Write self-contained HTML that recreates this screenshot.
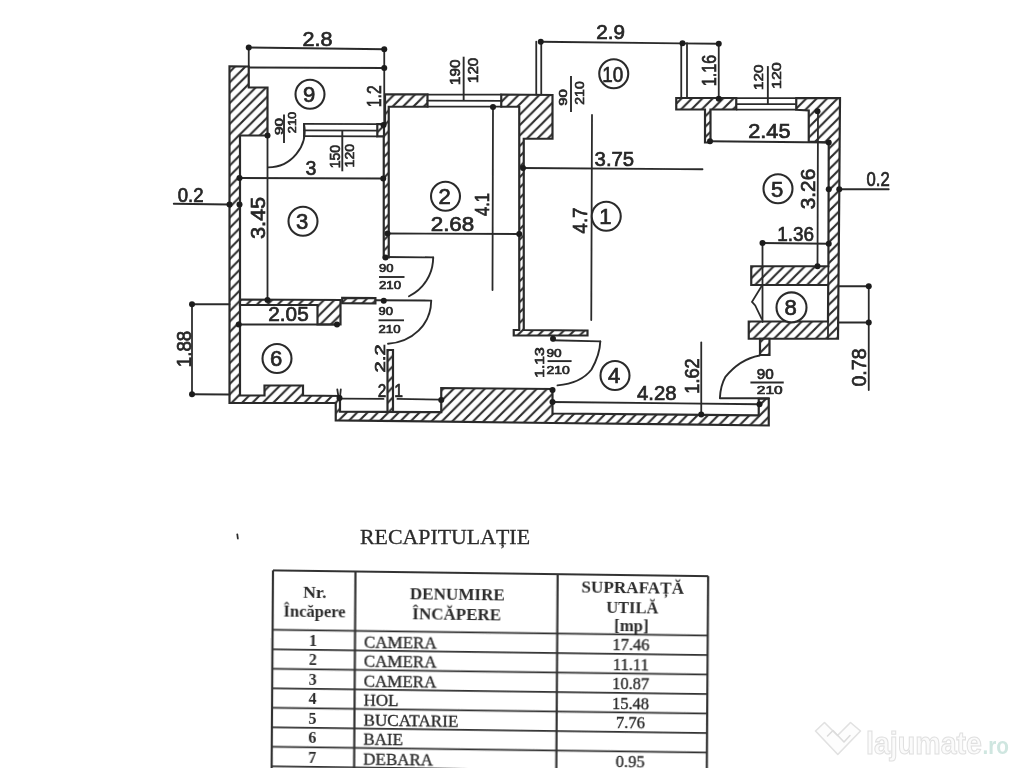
<!DOCTYPE html>
<html><head><meta charset="utf-8"><title>plan</title>
<style>
html,body{margin:0;padding:0;background:#fff;}
body{width:1024px;height:768px;overflow:hidden;position:relative;font-family:"Liberation Sans",sans-serif;}
svg{position:absolute;left:0;top:0;display:block}
.w{fill:url(#h);stroke:#2c2c2c;stroke-width:2.2;stroke-linejoin:miter}
.l{stroke:#2c2c2c;stroke-width:1.8;fill:none;stroke-linecap:round}
.d{fill:#1c1c1c}
.f{stroke:#2c2c2c;stroke-width:1.9;fill:none}
.c{fill:#fff;stroke:#2c2c2c;stroke-width:2.1}
.a{stroke:#2c2c2c;stroke-width:1.9;fill:none;stroke-linecap:round}
.t{font-family:"Liberation Sans",sans-serif;fill:#262626;stroke:#262626;stroke-width:0.7}
.s{font-family:"Liberation Sans",sans-serif;fill:#262626;stroke:#262626;stroke-width:0.65}
.tl{stroke:#333;stroke-width:1.7}
.tb{stroke-width:2.2}
.hb{font-family:"Liberation Serif",serif;font-weight:bold;fill:#2b2b2b}
.rb{font-family:"Liberation Serif",serif;font-weight:bold;fill:#2b2b2b}
.rt{font-family:"Liberation Serif",serif;fill:#2b2b2b;stroke:#2b2b2b;stroke-width:0.35}
.ti{font-family:"Liberation Serif",serif;fill:#2b2b2b;stroke:#2b2b2b;stroke-width:0.3}
</style></head>
<body>
<svg width="1024" height="768" viewBox="0 0 1024 768">
<defs>
<pattern id="h" patternUnits="userSpaceOnUse" width="10.4" height="10.4">
<rect width="10.4" height="10.4" fill="#fff"/>
<path d="M-2.6,2.6 L2.6,-2.6 M0,10.4 L10.4,0 M7.8,13 L13,7.8" stroke="#2c2c2c" stroke-width="2.1"/>
</pattern>
<filter id="soft" x="-2%" y="-2%" width="104%" height="104%"><feGaussianBlur stdDeviation="0.5"/></filter>
<filter id="soft2" x="-5%" y="-20%" width="110%" height="140%"><feGaussianBlur stdDeviation="0.6"/></filter>
</defs>
<rect width="1024" height="768" fill="#fff"/>
<g filter="url(#soft)">
<polygon class="w" points="229.5,66.25 248.75,66.5 248.75,87.5 267.5,87.5 267.5,135.5 240,135.5 240,395.5 264.5,395.5 264.5,385.5 303,385.5 303,395.5 340,396 340,411.6 441.25,412.2 441.25,388 552.5,389 552.5,413.5 758.75,415.3 758.75,398.75 768.75,398.75 768.75,425.5 552.5,423 335.75,420.3 335.75,403 229.5,403"/>
<polygon class="w" points="240,299.5 340.5,300 340.5,324.5 317.5,324.5 317.5,305 240,305"/>
<polygon class="w" points="342.2,297.9 375.4,298.2 375.4,303.5 342.2,303.2"/>
<polygon class="w" points="385,94.25 427.5,94.4 427.5,106.75 388.75,106.75 388.75,257.5 383.75,257.5 383.75,123.75 385,123.75"/>
<polygon class="w" points="501.25,94.5 552.5,95 552.5,138.75 523.75,138.75 523.75,330 587.5,330.5 587.5,335.5 513.75,335.3 513.75,330 519.25,330 519.25,106.75 501.25,106.75"/>
<polygon class="w" points="676.25,98 736.25,98 736.25,109.5 710.5,109.5 710.5,142.5 705,142.5 705,109.5 676.25,109.5"/>
<polygon class="w" points="796.25,98 840,98.2 839.3,189 838,338.75 748.75,338.75 748.75,321.5 828,321.5 828.2,285 751.25,285 751.25,266.25 828.4,266.25 828.75,142.5 808.75,141.5 808.75,110.5 796.25,109.8"/>
<line class="l" x1="828.4" y1="266.25" x2="828.2" y2="285"/>
<line class="l" x1="828" y1="321.5" x2="828" y2="338.5"/>
<polygon class="w" points="760,338.75 769.5,338.75 769.5,355 760,355"/>
<polygon class="w" points="387.5,350 393,350 393,412 387.5,412"/>
<line class="l" x1="304" y1="123.9" x2="377.3" y2="124.15"/>
<line class="l" x1="304" y1="130.3" x2="377.3" y2="130.55"/>
<line class="l" x1="304" y1="136.1" x2="377.3" y2="136.35"/>
<line class="l" x1="304" y1="123.9" x2="304" y2="136.1"/>
<polygon class="w" points="377.3,124.1 384,124.1 384,136.4 377.3,136.4"/>
<line class="l" x1="427.3" y1="94.6" x2="501.5" y2="94.7"/>
<line class="l" x1="427.3" y1="100.7" x2="501.5" y2="100.8"/>
<line class="l" x1="427.3" y1="106.6" x2="501.5" y2="106.7"/>
<line class="l" x1="736.6" y1="98.2" x2="795.5" y2="98.2"/>
<line class="l" x1="736.6" y1="104.2" x2="795.5" y2="104.2"/>
<line class="l" x1="736.6" y1="109.6" x2="795.5" y2="109.6"/>
<line class="l" x1="248.75" y1="47.5" x2="384.25" y2="49.25"/>
<line class="l" x1="248.75" y1="47.5" x2="248.75" y2="66.5"/>
<line class="l" x1="384.25" y1="49.25" x2="384.25" y2="125"/>
<line class="l" x1="248.75" y1="67.5" x2="384.25" y2="68"/>
<line class="l" x1="239.5" y1="178" x2="383.25" y2="178.5"/>
<line class="l" x1="267.5" y1="135.5" x2="267.5" y2="300"/>
<line class="l" x1="173.75" y1="203.75" x2="229.5" y2="204.5"/>
<line class="l" x1="192" y1="304.25" x2="229.5" y2="304.25"/>
<line class="l" x1="192" y1="394.25" x2="229.5" y2="394.5"/>
<line class="l" x1="192" y1="304.25" x2="192" y2="394.25"/>
<line class="l" x1="238.75" y1="324.5" x2="337" y2="324.5"/>
<line class="l" x1="387.5" y1="233.5" x2="519.25" y2="234"/>
<line class="l" x1="493" y1="107" x2="492.5" y2="290"/>
<line class="l" x1="592" y1="115" x2="591.25" y2="320"/>
<line class="l" x1="523" y1="168" x2="702.5" y2="169.25"/>
<line class="l" x1="540.75" y1="41.75" x2="718.75" y2="43.75"/>
<line class="l" x1="536.25" y1="41.75" x2="536.25" y2="94.5"/>
<line class="l" x1="541.25" y1="41.75" x2="541.25" y2="94.5"/>
<line class="l" x1="681.25" y1="43.25" x2="681.25" y2="98"/>
<line class="l" x1="687" y1="43.25" x2="687" y2="98"/>
<line class="l" x1="718.75" y1="43.75" x2="718.75" y2="98.75"/>
<line class="l" x1="710" y1="141.25" x2="828.75" y2="142.5"/>
<line class="l" x1="818" y1="111.25" x2="817.5" y2="266.25"/>
<line class="l" x1="839.25" y1="189.25" x2="888.75" y2="189.25"/>
<line class="l" x1="762.5" y1="243" x2="828.75" y2="243.75"/>
<line class="l" x1="762.5" y1="243" x2="762.5" y2="322"/>
<line class="l" x1="838.5" y1="286.25" x2="868.75" y2="286.25"/>
<line class="l" x1="838" y1="322.5" x2="868.75" y2="322.5"/>
<line class="l" x1="868.75" y1="286.25" x2="868.75" y2="390"/>
<line class="l" x1="701.25" y1="342.5" x2="701.25" y2="414.5"/>
<line class="l" x1="552.5" y1="402" x2="759.5" y2="404.25"/>
<line class="l" x1="340.5" y1="398.7" x2="383.5" y2="398.9"/>
<line class="l" x1="397.4" y1="398.9" x2="441.3" y2="399.6"/>
<path class="l" d="M761.7,286 L752,301.9 L755.2,305.4 L761.7,318.8"/>
<path class="l" d="M337.3,389.5 L338.5,397 M340.8,389.5 L340,397"/>
<path class="l" d="M237.3,534.5 L237.8,538.5"/>
<path class="a" d="M304,124 A36.5,36.5 0 0 1 268,167.4"/>
<line class="a" x1="385" y1="257" x2="433.2" y2="257.4"/>
<path class="a" d="M433.2,257.4 C433,274 424,289 409,296.25"/>
<line class="a" x1="376" y1="300.3" x2="431.2" y2="300.6"/>
<path class="a" d="M431.2,300.6 C431,325 412,342 388,343.8"/>
<line class="a" x1="552.2" y1="340.2" x2="600.3" y2="341.4"/>
<path class="a" d="M600.3,341.4 C600,351 598,358 591.5,369.5 C585,378 573,384 557.5,385.4"/>
<path class="a" d="M759.7,355.5 C746,358 735,365 725.2,377.2 C722,383 720.3,390 719.9,397.7"/>
<line class="a" x1="719.9" y1="398.3" x2="769" y2="398.3"/>
<circle class="d" cx="248.75" cy="47.5" r="3"/>
<circle class="d" cx="384.25" cy="49.25" r="3"/>
<circle class="d" cx="384.25" cy="68" r="3"/>
<circle class="d" cx="383.5" cy="125" r="3"/>
<circle class="d" cx="267.5" cy="135.5" r="3"/>
<circle class="d" cx="239.5" cy="178" r="3"/>
<circle class="d" cx="383.25" cy="178.5" r="3"/>
<circle class="d" cx="229.5" cy="204.5" r="3"/>
<circle class="d" cx="239.5" cy="204.5" r="3"/>
<circle class="d" cx="267.5" cy="300" r="3"/>
<circle class="d" cx="192" cy="304.25" r="3"/>
<circle class="d" cx="192" cy="394.25" r="3"/>
<circle class="d" cx="238.75" cy="324.5" r="3"/>
<circle class="d" cx="337" cy="324.5" r="3"/>
<circle class="d" cx="383.75" cy="300.75" r="3"/>
<circle class="d" cx="385.5" cy="257.5" r="3"/>
<circle class="d" cx="387.5" cy="233.5" r="3"/>
<circle class="d" cx="519.25" cy="234" r="3"/>
<circle class="d" cx="493" cy="107" r="3"/>
<circle class="d" cx="523" cy="168" r="3"/>
<circle class="d" cx="540.75" cy="41.75" r="3"/>
<circle class="d" cx="682.5" cy="43.25" r="3"/>
<circle class="d" cx="718.75" cy="43.75" r="3"/>
<circle class="d" cx="718.75" cy="98.75" r="3"/>
<circle class="d" cx="710" cy="141.25" r="3"/>
<circle class="d" cx="817.5" cy="111.25" r="3"/>
<circle class="d" cx="828.75" cy="142.5" r="3"/>
<circle class="d" cx="828.75" cy="189.25" r="3"/>
<circle class="d" cx="839.25" cy="189.25" r="3"/>
<circle class="d" cx="762.5" cy="243" r="3"/>
<circle class="d" cx="828.75" cy="243.75" r="3"/>
<circle class="d" cx="817.5" cy="266.25" r="3"/>
<circle class="d" cx="868.75" cy="286.25" r="3"/>
<circle class="d" cx="868.75" cy="322.5" r="3"/>
<circle class="d" cx="701.25" cy="414.5" r="3"/>
<circle class="d" cx="759.5" cy="404.25" r="3"/>
<circle class="d" cx="552.5" cy="390" r="3"/>
<circle class="d" cx="552.5" cy="402" r="3"/>
<circle class="d" cx="553" cy="338.75" r="3"/>
<circle class="d" cx="441.25" cy="400" r="3"/>
<circle class="d" cx="339.5" cy="398" r="3"/>
<circle class="c" cx="310" cy="94.25" r="14.5"/>
<text class="t" x="302.95" y="102.17" font-size="22" textLength="12.3" lengthAdjust="spacingAndGlyphs">9</text>
<circle class="c" cx="303" cy="221.25" r="14.5"/>
<text class="t" x="295.95" y="229.17" font-size="22" textLength="12.3" lengthAdjust="spacingAndGlyphs">3</text>
<circle class="c" cx="277" cy="358.5" r="14.5"/>
<text class="t" x="269.95" y="366.42" font-size="22" textLength="12.3" lengthAdjust="spacingAndGlyphs">6</text>
<circle class="c" cx="445.5" cy="196.25" r="14.5"/>
<text class="t" x="438.45" y="204.17" font-size="22" textLength="12.3" lengthAdjust="spacingAndGlyphs">2</text>
<circle class="c" cx="613.75" cy="73.75" r="14.5"/>
<text class="t" x="602.35" y="81.67" font-size="22" textLength="21" lengthAdjust="spacingAndGlyphs">10</text>
<circle class="c" cx="606.25" cy="216.25" r="14.5"/>
<text class="t" x="599.2" y="224.17" font-size="22" textLength="12.3" lengthAdjust="spacingAndGlyphs">1</text>
<circle class="c" cx="615" cy="375.5" r="14.5"/>
<text class="t" x="607.95" y="383.42" font-size="22" textLength="12.3" lengthAdjust="spacingAndGlyphs">4</text>
<circle class="c" cx="778" cy="188.75" r="14.5"/>
<text class="t" x="770.95" y="196.67" font-size="22" textLength="12.3" lengthAdjust="spacingAndGlyphs">5</text>
<circle class="c" cx="791.5" cy="307.4" r="15"/>
<text class="t" x="784.45" y="315.32" font-size="22" textLength="12.3" lengthAdjust="spacingAndGlyphs">8</text>
<text class="t" x="302.512" y="45.5" font-size="20.5" textLength="29.975" lengthAdjust="spacingAndGlyphs">2.8</text>
<text class="t" x="305.55" y="174.5" font-size="20.5" textLength="10.9" lengthAdjust="spacingAndGlyphs">3</text>
<text class="t" x="177.681" y="201.5" font-size="20.5" textLength="25.8875" lengthAdjust="spacingAndGlyphs">0.2</text>
<text class="t" transform="translate(257.5,218) rotate(-90)" x="-21.1188" y="7.38" font-size="20.5" textLength="42.2375" lengthAdjust="spacingAndGlyphs">3.45</text>
<text class="t" transform="translate(373.5,96.25) rotate(-90)" x="-10.9" y="7.38" font-size="20.5" textLength="21.8" lengthAdjust="spacingAndGlyphs">1.2</text>
<text class="t" x="268.335" y="320.5" font-size="20.5" textLength="40.33" lengthAdjust="spacingAndGlyphs">2.05</text>
<text class="t" transform="translate(183.75,349) rotate(-90)" x="-18.2575" y="7.38" font-size="20.5" textLength="36.515" lengthAdjust="spacingAndGlyphs">1.88</text>
<text class="t" x="430.7" y="230.5" font-size="20.5" textLength="43.6" lengthAdjust="spacingAndGlyphs">2.68</text>
<text class="t" transform="translate(482,204.5) rotate(-90)" x="-11.445" y="7.38" font-size="20.5" textLength="22.89" lengthAdjust="spacingAndGlyphs">4.1</text>
<text class="t" transform="translate(579.5,220.5) rotate(-90)" x="-12.9438" y="7.38" font-size="20.5" textLength="25.8875" lengthAdjust="spacingAndGlyphs">4.7</text>
<text class="t" x="594.619" y="165.5" font-size="20.5" textLength="39.5125" lengthAdjust="spacingAndGlyphs">3.75</text>
<text class="t" x="596.319" y="39.25" font-size="20.5" textLength="28.6125" lengthAdjust="spacingAndGlyphs">2.9</text>
<text class="t" transform="translate(708.75,70.5) rotate(-90)" x="-15.6688" y="7.38" font-size="20.5" textLength="31.3375" lengthAdjust="spacingAndGlyphs">1.16</text>
<text class="t" x="748.256" y="138" font-size="20.5" textLength="42.2375" lengthAdjust="spacingAndGlyphs">2.45</text>
<text class="t" transform="translate(807.5,189) rotate(-90)" x="-20.165" y="7.38" font-size="20.5" textLength="40.33" lengthAdjust="spacingAndGlyphs">3.26</text>
<text class="t" x="866.544" y="185.5" font-size="20.5" textLength="23.1625" lengthAdjust="spacingAndGlyphs">0.2</text>
<text class="t" x="777.231" y="240.5" font-size="20.5" textLength="36.7875" lengthAdjust="spacingAndGlyphs">1.36</text>
<text class="t" transform="translate(858.75,367.5) rotate(-90)" x="-19.075" y="7.38" font-size="20.5" textLength="38.15" lengthAdjust="spacingAndGlyphs">0.78</text>
<text class="t" transform="translate(692,376) rotate(-90)" x="-17.7125" y="7.38" font-size="20.5" textLength="35.425" lengthAdjust="spacingAndGlyphs">1.62</text>
<text class="t" x="637.067" y="399.5" font-size="20.5" textLength="39.567" lengthAdjust="spacingAndGlyphs">4.28</text>
<text class="t" transform="translate(379,358.4) rotate(-90)" x="-14.061" y="5.58" font-size="15.5" textLength="28.122" lengthAdjust="spacingAndGlyphs">2.2</text>
<text class="t" x="377.849" y="396.5" font-size="18.5" textLength="8.502" lengthAdjust="spacingAndGlyphs">2</text>
<text class="t" x="394.14" y="396.5" font-size="18.5" textLength="8.72" lengthAdjust="spacingAndGlyphs">1</text>
<text class="t" transform="translate(539.3,362.5) rotate(-90)" x="-15.26" y="4.68" font-size="13" textLength="30.52" lengthAdjust="spacingAndGlyphs">1.13</text>
<line class="f" x1="379" y1="277" x2="404.5" y2="277"/>
<text class="s" x="379" y="271.5" font-size="11" textLength="14.5" lengthAdjust="spacingAndGlyphs">90</text>
<text class="s" x="379" y="289" font-size="11" textLength="22" lengthAdjust="spacingAndGlyphs">210</text>
<line class="f" x1="378.5" y1="320.3" x2="404" y2="320.3"/>
<text class="s" x="378.5" y="314.5" font-size="11" textLength="14.5" lengthAdjust="spacingAndGlyphs">90</text>
<text class="s" x="378.5" y="332.7" font-size="11" textLength="22" lengthAdjust="spacingAndGlyphs">210</text>
<line class="f" x1="547.5" y1="361.1" x2="571.6" y2="361.1"/>
<text class="s" x="546.4" y="356.6" font-size="11.5" textLength="15.2" lengthAdjust="spacingAndGlyphs">90</text>
<text class="s" x="546.4" y="373.6" font-size="11.5" textLength="23.4" lengthAdjust="spacingAndGlyphs">210</text>
<line class="f" x1="750.4" y1="382.5" x2="783.75" y2="382.5"/>
<text class="s" x="756.8" y="379" font-size="14.5" textLength="17" lengthAdjust="spacingAndGlyphs">90</text>
<text class="s" x="756.8" y="393.6" font-size="11.5" textLength="25.8" lengthAdjust="spacingAndGlyphs">210</text>
<line class="f" x1="463.65" y1="56.7" x2="463.65" y2="100.7"/>
<text class="s" transform="translate(460,72.3) rotate(-90)" x="-12.7" y="0" font-size="14" textLength="25.4" lengthAdjust="spacingAndGlyphs">190</text>
<text class="s" transform="translate(478.1,70.4) rotate(-90)" x="-12.7" y="0" font-size="14" textLength="25.4" lengthAdjust="spacingAndGlyphs">120</text>
<line class="f" x1="571" y1="75.9" x2="571" y2="112"/>
<text class="s" transform="translate(567.3,97.4) rotate(-90)" x="-8.3" y="0" font-size="11" textLength="16.6" lengthAdjust="spacingAndGlyphs">90</text>
<text class="s" transform="translate(584,93) rotate(-90)" x="-11.7" y="0" font-size="12.3" textLength="23.4" lengthAdjust="spacingAndGlyphs">210</text>
<line class="f" x1="767.85" y1="66.1" x2="767.85" y2="104.2"/>
<text class="s" transform="translate(762.5,77.3) rotate(-90)" x="-12.7" y="0" font-size="13" textLength="25.4" lengthAdjust="spacingAndGlyphs">120</text>
<text class="s" transform="translate(780.5,75.6) rotate(-90)" x="-13.4" y="0" font-size="13" textLength="26.8" lengthAdjust="spacingAndGlyphs">120</text>
<line class="f" x1="342.3" y1="130.3" x2="342.3" y2="171.3"/>
<text class="s" transform="translate(340.2,156.6) rotate(-90)" x="-11.7" y="0" font-size="14" textLength="23.4" lengthAdjust="spacingAndGlyphs">150</text>
<text class="s" transform="translate(353.9,155.7) rotate(-90)" x="-11.7" y="0" font-size="13" textLength="23.4" lengthAdjust="spacingAndGlyphs">120</text>
<line class="f" x1="284" y1="114.6" x2="284" y2="143"/>
<text class="s" transform="translate(282.6,126.6) rotate(-90)" x="-8.5" y="0" font-size="11" textLength="17" lengthAdjust="spacingAndGlyphs">90</text>
<text class="s" transform="translate(296.25,122.5) rotate(-90)" x="-10.75" y="0" font-size="11.5" textLength="21.5" lengthAdjust="spacingAndGlyphs">210</text>
<text class="ti" x="360" y="544" font-size="20.5" textLength="170" lengthAdjust="spacingAndGlyphs">RECAPITULAȚIE</text>
<g transform="matrix(0.99991 0.013264 -0.00698 0.99998 273 570.4)">
<line class="tl" x1="0" y1="0" x2="435.2" y2="0"/>
<line class="tl" x1="0" y1="59.4" x2="435.2" y2="59.4"/>
<line class="tl" x1="0" y1="78.9" x2="435.2" y2="78.9"/>
<line class="tl" x1="0" y1="98.4" x2="435.2" y2="98.4"/>
<line class="tl" x1="0" y1="117.9" x2="435.2" y2="117.9"/>
<line class="tl" x1="0" y1="137.4" x2="435.2" y2="137.4"/>
<line class="tl" x1="0" y1="156.9" x2="435.2" y2="156.9"/>
<line class="tl" x1="0" y1="176.4" x2="435.2" y2="176.4"/>
<line class="tl" x1="0" y1="195.9" x2="435.2" y2="195.9"/>
<line class="tl" x1="0" y1="215.4" x2="435.2" y2="215.4"/>
<line class="tl tb" x1="0" y1="0" x2="0" y2="215.4"/>
<line class="tl tb" x1="82.5" y1="0" x2="82.5" y2="215.4"/>
<line class="tl tb" x1="284.7" y1="0" x2="284.7" y2="215.4"/>
<line class="tl tb" x1="435.2" y1="0" x2="435.2" y2="215.4"/>
<line class="tl tb" x1="0" y1="0" x2="435.2" y2="0"/>
<text class="hb" x="42" y="27.3" font-size="17" text-anchor="middle" textLength="23.5" lengthAdjust="spacingAndGlyphs">Nr.</text>
<text class="hb" x="41.8" y="45.9" font-size="17" text-anchor="middle" textLength="62" lengthAdjust="spacingAndGlyphs">Încăpere</text>
<text class="hb" x="184.5" y="27.3" font-size="17" text-anchor="middle" textLength="95" lengthAdjust="spacingAndGlyphs">DENUMIRE</text>
<text class="hb" x="184" y="46.6" font-size="17" text-anchor="middle" textLength="89" lengthAdjust="spacingAndGlyphs">ÎNCĂPERE</text>
<text class="hb" x="359.8" y="18.1" font-size="17" text-anchor="middle" textLength="102.5" lengthAdjust="spacingAndGlyphs">SUPRAFAȚĂ</text>
<text class="hb" x="359.5" y="37.8" font-size="17" text-anchor="middle" textLength="52" lengthAdjust="spacingAndGlyphs">UTILĂ</text>
<text class="hb" x="358.8" y="56.1" font-size="17" text-anchor="middle" textLength="34.4" lengthAdjust="spacingAndGlyphs">[mp]</text>
<text class="rb" x="40.5" y="74.8" font-size="16" text-anchor="middle">1</text>
<text class="rt" x="91.5" y="75.6" font-size="17" text-anchor="start">CAMERA</text>
<text class="rt" x="358.5" y="75.4" font-size="16.5" text-anchor="middle">17.46</text>
<text class="rb" x="40.5" y="94.3" font-size="16" text-anchor="middle">2</text>
<text class="rt" x="91.5" y="95.1" font-size="17" text-anchor="start">CAMERA</text>
<text class="rt" x="358.5" y="94.9" font-size="16.5" text-anchor="middle">11.11</text>
<text class="rb" x="40.5" y="113.8" font-size="16" text-anchor="middle">3</text>
<text class="rt" x="91.5" y="114.6" font-size="17" text-anchor="start">CAMERA</text>
<text class="rt" x="358.5" y="114.4" font-size="16.5" text-anchor="middle">10.87</text>
<text class="rb" x="40.5" y="133.3" font-size="16" text-anchor="middle">4</text>
<text class="rt" x="91.5" y="134.1" font-size="17" text-anchor="start">HOL</text>
<text class="rt" x="358.5" y="133.9" font-size="16.5" text-anchor="middle">15.48</text>
<text class="rb" x="40.5" y="152.8" font-size="16" text-anchor="middle">5</text>
<text class="rt" x="91.5" y="153.6" font-size="17" text-anchor="start" textLength="95" lengthAdjust="spacingAndGlyphs">BUCATARIE</text>
<text class="rt" x="358.5" y="153.4" font-size="16.5" text-anchor="middle">7.76</text>
<text class="rb" x="40.5" y="172.3" font-size="16" text-anchor="middle">6</text>
<text class="rt" x="91.5" y="173.1" font-size="17" text-anchor="start">BAIE</text>
<text class="rb" x="40.5" y="191.8" font-size="16" text-anchor="middle">7</text>
<text class="rt" x="91.5" y="192.6" font-size="17" text-anchor="start">DEBARA</text>
<text class="rt" x="358.5" y="192.4" font-size="16.5" text-anchor="middle">0.95</text>
<text class="rb" x="40.5" y="211.3" font-size="16" text-anchor="middle">8</text>
</g>
</g>
<!-- watermark -->
<g filter="url(#soft2)">
<path d="M815.5,731 L824.5,722.5 L837.5,735.5 L850.5,722.5 L860.5,731 L837.8,754.5 Z" fill="#fdfdfd" stroke="#e1e1e1" stroke-width="1.6" stroke-linejoin="round"/>
<path d="M827.5,736 L833,730.5 L844,742 L850,735.5" fill="none" stroke="#dcdcdc" stroke-width="1.6" stroke-linecap="round" stroke-linejoin="round"/>
<text x="866" y="753.5" font-size="32" font-weight="bold" fill="#fbfbfb" stroke="#e0e0e0" stroke-width="1.1" textLength="116" lengthAdjust="spacingAndGlyphs" style="font-family:'Liberation Sans',sans-serif">lajumate</text>
<text x="982.5" y="753.5" font-size="24" font-weight="bold" fill="#cfe6e0" textLength="26.5" lengthAdjust="spacingAndGlyphs" style="font-family:'Liberation Sans',sans-serif">.ro</text>
</g>
</svg>
</body></html>
